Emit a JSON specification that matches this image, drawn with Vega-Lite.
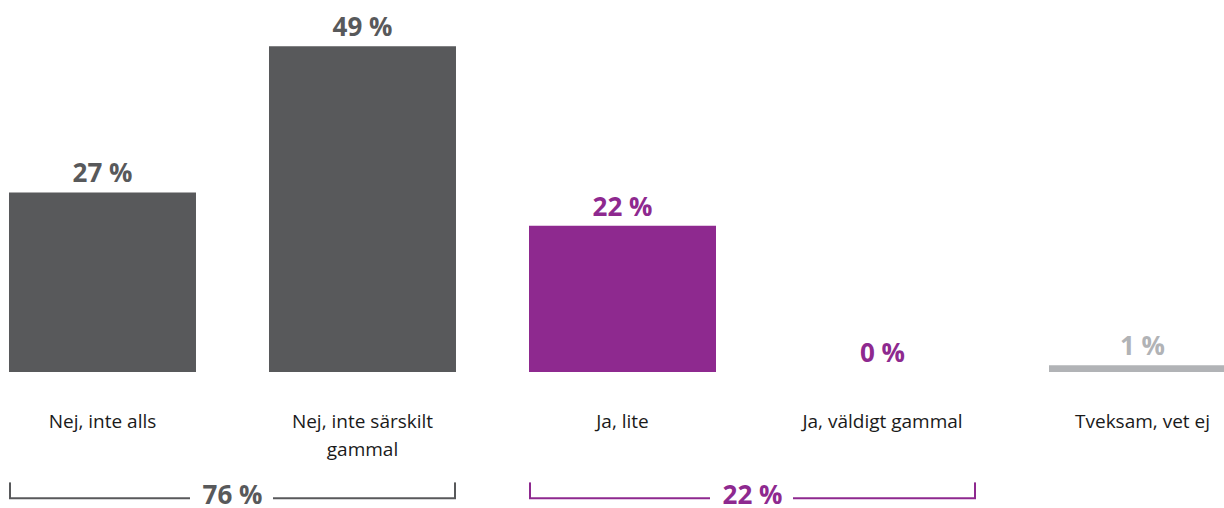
{
  "$schema": "https://vega.github.io/schema/vega-lite/v6.json",
  "width": 1224,
  "height": 508,
  "autosize": "none",
  "padding": 0,
  "background": "white",
  "config": {"view": {"stroke": null}, "font": "Open Sans"},
  "datasets": {
    "bars": [
      {"cat": "Nej, inte alls", "pct": 27, "grp": "nej"},
      {"cat": "Nej, inte särskilt gammal", "pct": 49, "grp": "nej"},
      {"cat": "Ja, lite", "pct": 22, "grp": "ja"},
      {"cat": "Ja, väldigt gammal", "pct": 0, "grp": "ja"},
      {"cat": "Tveksam, vet ej", "pct": 1, "grp": "vet"}
    ],
    "brackets": [
      {"from": "Nej, inte alls", "to": "Nej, inte särskilt gammal", "total": "76 %", "grp": "nej"},
      {"from": "Ja, lite", "to": "Ja, väldigt gammal", "total": "22 %", "grp": "ja"}
    ]
  },
  "resolve": {"scale": {"x": "shared", "y": "shared", "color": "shared"}},
  "layer": [
    {
      "data": {"name": "bars"},
      "mark": {"type": "bar", "clip": true},
      "encoding": {
        "x": {
          "field": "cat", "type": "nominal", "sort": null,
          "scale": {
            "domain": ["Nej, inte alls", "Nej, inte särskilt gammal", "Ja, lite", "Ja, väldigt gammal", "Tveksam, vet ej"],
            "range": [0, 1245], "paddingInner": 0.2808, "paddingOuter": 0.0346
          },
          "axis": {
            "title": null, "orient": "bottom", "offset": -96, "domain": false, "ticks": false,
            "labelAngle": 0, "labelFontSize": 19, "labelColor": "#1a1a1a", "labelPadding": 0,
            "labelLimit": 400, "labelLineHeight": 28, "labelFont": "Open Sans",
            "labelExpr": "datum.value == 'Nej, inte särskilt gammal' ? ['Nej, inte särskilt', 'gammal'] : datum.value"
          }
        },
        "y": {"field": "pct", "type": "quantitative", "scale": {"domain": [-20.45, 55.94], "nice": false, "zero": false}, "axis": null},
        "color": {"field": "grp", "type": "nominal", "scale": {"domain": ["nej", "ja", "vet"], "range": ["#58595b", "#8e298f", "#b1b3b6"]}, "legend": null}
      }
    },
    {
      "data": {"name": "bars"},
      "transform": [{"calculate": "datum.pct + ' %'", "as": "label"}],
      "mark": {"type": "text", "dy": -10, "baseline": "alphabetic", "fontSize": 26, "fontWeight": "bold", "font": "Open Sans"},
      "encoding": {
        "x": {"field": "cat", "type": "nominal", "sort": null},
        "y": {"field": "pct", "type": "quantitative"},
        "text": {"field": "label"},
        "color": {"field": "grp", "type": "nominal", "legend": null}
      }
    },
    {
      "data": {"name": "brackets"},
      "mark": {"type": "rule", "strokeWidth": 2, "x2Offset": -6},
      "encoding": {
        "x": {"field": "from", "type": "nominal", "bandPosition": 0},
        "x2": {"field": "from", "bandPosition": 1},
        "y": {"datum": -19},
        "color": {"field": "grp", "type": "nominal", "legend": null}
      }
    },
    {
      "data": {"name": "brackets"},
      "mark": {"type": "rule", "strokeWidth": 2, "xOffset": 4},
      "encoding": {
        "x": {"field": "to", "type": "nominal", "bandPosition": 0},
        "x2": {"field": "to", "bandPosition": 1},
        "y": {"datum": -19},
        "color": {"field": "grp", "type": "nominal", "legend": null}
      }
    },
    {
      "data": {"name": "brackets"},
      "mark": {"type": "rule", "strokeWidth": 2, "xOffset": 1},
      "encoding": {
        "x": {"field": "from", "type": "nominal", "bandPosition": 0},
        "y": {"datum": -16.6},
        "y2": {"datum": -19.1},
        "color": {"field": "grp", "type": "nominal", "legend": null}
      }
    },
    {
      "data": {"name": "brackets"},
      "mark": {"type": "rule", "strokeWidth": 2, "xOffset": -1},
      "encoding": {
        "x": {"field": "to", "type": "nominal", "bandPosition": 1},
        "y": {"datum": -16.6},
        "y2": {"datum": -19.1},
        "color": {"field": "grp", "type": "nominal", "legend": null}
      }
    },
    {
      "data": {"name": "brackets"},
      "mark": {"type": "text", "fontSize": 26, "fontWeight": "bold", "baseline": "alphabetic", "dy": 6, "xOffset": 36.5, "font": "Open Sans"},
      "encoding": {
        "x": {"field": "from", "type": "nominal", "bandPosition": 1},
        "y": {"datum": -19},
        "text": {"field": "total"},
        "color": {"field": "grp", "type": "nominal", "legend": null}
      }
    }
  ]
}
